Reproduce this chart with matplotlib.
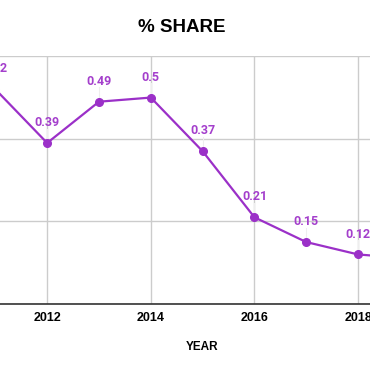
import matplotlib
matplotlib.use("Agg")
import matplotlib.pyplot as plt

years = [2011, 2012, 2013, 2014, 2015, 2016, 2017, 2018, 2019]
share = [0.52, 0.39, 0.49, 0.5, 0.37, 0.21, 0.15, 0.12, 0.11]
labels = ["0.52", "0.39", "0.49", "0.5", "0.37", "0.21", "0.15", "0.12", "0.11"]
xticks = [2012, 2014, 2016, 2018]
yticks = [0, 0.2, 0.4, 0.6]

line_color = "#9b30c8"
label_color = "#a43fcc"

fig = plt.figure(figsize=(3.70, 3.71), dpi=100)
ax = fig.add_axes([0.0, 0.1806, 1.0, 0.6677])
ax.set_xlim(2011.09, 2018.23)
ax.set_ylim(0, 0.6)

ax.plot(years, share, color=line_color, lw=1.6, marker="o", ms=5.5, zorder=3, clip_on=True)
for x, y, t in zip(years, share, labels):
    ax.plot([x, x], [y, y + 0.035], color="#eeeeee", lw=0.8, zorder=2)
    ax.annotate(t, (x, y), xytext=(0, 10), textcoords="offset points",
                ha="center", va="bottom", color=label_color, fontsize=9,
                fontweight="bold", family="Roboto", annotation_clip=False)

ax.set_xticks(xticks)
ax.set_xticklabels([str(v) for v in xticks], fontweight="bold", fontsize=9,
                   family="Liberation Sans")
ax.set_yticks(yticks)
ax.set_yticklabels([])
ax.tick_params(axis="both", length=0, pad=6)
ax.grid(True, color="#cccccc", lw=1)
ax.set_axisbelow(True)
for s in ["top", "right", "left"]:
    ax.spines[s].set_visible(False)
ax.spines["bottom"].set_color("#333333")
ax.spines["bottom"].set_linewidth(1.2)

fig.text(202 / 370, 1 - 347 / 371, "YEAR", ha="center", va="center",
         fontweight="bold", fontsize=8.5, family="Liberation Sans")
fig.text(182 / 370, 1 - 28 / 371, "% SHARE", ha="center", va="center",
         fontweight="bold", fontsize=13.5, family="Liberation Sans")

fig.savefig("out.png", dpi=100)
